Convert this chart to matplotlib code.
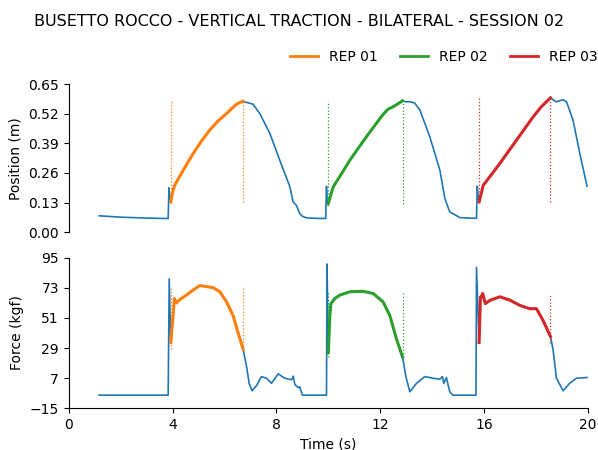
import numpy as np
import matplotlib
matplotlib.use("Agg")
import matplotlib.pyplot as plt
from matplotlib.lines import Line2D

title = "BUSETTO ROCCO - VERTICAL TRACTION - BILATERAL - SESSION 02"

# position signal (s, m)
t_pos = np.array([1.17, 2.0, 3.0, 3.83, 3.86, 3.90, 3.93, 4.02, 4.08, 4.4, 4.79, 5.1,
                  5.43, 5.75, 6.08, 6.3, 6.46, 6.6, 6.72, 6.91, 7.1, 7.36, 7.75, 8.13,
                  8.52, 8.64, 8.77, 8.9, 9.0, 9.16, 9.5, 9.9, 9.93, 9.96, 9.99,
                  10.19, 10.5, 10.83, 11.15, 11.47, 11.8, 12.11, 12.3, 12.5, 12.7, 12.86,
                  13.0, 13.14, 13.33, 13.53, 13.91, 14.3, 14.49, 14.68, 15.07, 15.4,
                  15.71, 15.74, 15.78, 15.81, 15.97, 16.3, 16.61, 16.93, 17.25, 17.57,
                  17.89, 18.2, 18.4, 18.56, 18.68, 18.79, 18.92, 19.05, 19.18, 19.43,
                  19.69, 19.97])
pos = np.array([0.072, 0.066, 0.062, 0.060, 0.195, 0.150, 0.133, 0.185, 0.206, 0.270,
                0.345, 0.398, 0.448, 0.488, 0.521, 0.545, 0.562, 0.570, 0.574, 0.568,
                0.562, 0.521, 0.433, 0.316, 0.199, 0.133, 0.118, 0.082, 0.070, 0.063,
                0.061, 0.060, 0.202, 0.130, 0.123, 0.199, 0.255, 0.316, 0.368,
                0.419, 0.470, 0.517, 0.540, 0.551, 0.565, 0.577, 0.572, 0.573, 0.567,
                0.536, 0.419, 0.272, 0.148, 0.089, 0.064, 0.062, 0.061, 0.202, 0.150,
                0.133, 0.206, 0.255, 0.302, 0.353, 0.404, 0.455, 0.506, 0.550, 0.572,
                0.590, 0.580, 0.572, 0.578, 0.581, 0.572, 0.492, 0.346, 0.202])

# force signal (s, kgf)
t_force = np.array([1.17, 3.83, 3.87, 3.93, 4.02, 4.07, 4.15, 4.28, 4.53, 4.79, 5.05,
                    5.3, 5.56, 5.82, 6.08, 6.33, 6.52, 6.72, 6.85, 6.95, 7.06, 7.25,
                    7.42, 7.62, 7.81, 8.07, 8.32, 8.58, 8.65, 8.71, 8.84, 8.9, 9.0,
                    9.93, 9.95, 10.0, 10.06, 10.1, 10.25, 10.44, 10.83, 11.34, 11.73,
                    12.11, 12.37, 12.63, 12.86, 12.99, 13.14, 13.4, 13.72, 14.04, 14.3,
                    14.4, 14.45, 14.55, 14.68, 14.8, 15.69, 15.71, 15.81, 15.86, 15.95,
                    16.05, 16.24, 16.61, 17.0, 17.38, 17.76, 18.02, 18.28, 18.56, 18.66,
                    18.79, 19.05, 19.3, 19.56, 19.97])
force = np.array([-5.5, -5.5, 79.6, 33.0, 52.8, 65.2, 62.0, 64.5, 67.7, 71.4, 74.7,
                  74.0, 73.2, 70.2, 62.8, 52.8, 40.4, 28.0, 15.5, 3.2, -2.3, 1.9,
                  8.1, 6.9, 3.2, 10.1, 6.9, 5.8, 8.4, 2.4, 0.0, 0.6, -5.5,
                  -5.5, 90.5, 25.5, 52.8, 61.5, 65.2, 67.7, 70.2, 70.5, 68.9,
                  62.8, 52.8, 35.4, 22.5, 8.1, -3.0, 3.2, 8.1, 6.9, 6.2,
                  8.1, 3.2, 7.4, -3.0, -5.5, -5.5, 88.0, 33.0, 65.2, 68.9,
                  61.5, 64.0, 66.5, 64.0, 60.2, 57.8, 57.8, 49.0, 37.4, 28.0,
                  6.9, -2.3, 3.2, 6.9, 7.4])

rep_labels = ["REP 01", "REP 02", "REP 03"]
rep_start = [3.93, 9.99, 15.81]
rep_end = [6.72, 12.86, 18.56]
rep_colors = ["tab:orange", "tab:green", "tab:red"]

pos_ticks = [0.00, 0.13, 0.26, 0.39, 0.52, 0.65]
force_ticks = [-15, 7, 29, 51, 73, 95]
time_ticks = [0, 4, 8, 12, 16, 20]

fig = plt.figure(figsize=(5.98, 4.5), dpi=100)
ax1 = fig.add_axes([0.115, 0.484, 0.868, 0.329])
ax2 = fig.add_axes([0.115, 0.093, 0.868, 0.334])

fig.suptitle(title, x=0.5, y=0.97, fontsize=11.5)

for ax, t, y in [(ax1, t_pos, pos), (ax2, t_force, force)]:
    ax.plot(t, y, color="tab:blue", lw=1.2)
    for s, e, c in zip(rep_start, rep_end, rep_colors):
        m = (t >= s) & (t <= e)
        ax.plot(t[m], y[m], color=c, lw=2.2)
        ax.vlines([s, e], y[m].min(), y[m].max(), colors=c, linestyles=":", lw=0.9)
    ax.set_xlim(0, 20)
    ax.spines["top"].set_visible(False)
    ax.spines["right"].set_visible(False)

ax1.set_ylim(0, 0.65)
ax1.set_yticks(pos_ticks)
ax1.set_yticklabels(["%.2f" % v for v in pos_ticks])
ax1.spines["bottom"].set_visible(False)
ax1.set_xticks([])
ax1.set_ylabel("Position (m)")

ax2.set_ylim(-15, 95)
ax2.set_yticks(force_ticks)
ax2.set_xticks(time_ticks)
ax2.set_ylabel("Force (kgf)")
ax2.set_xlabel("Time (s)")

handles = [Line2D([], [], color=c, lw=2) for c in rep_colors]
fig.legend(handles, rep_labels, loc="center right", bbox_to_anchor=(1.02, 0.873),
           ncol=3, frameon=False, handlelength=2.0, columnspacing=1.6)

fig.savefig("out.png", dpi=100)
